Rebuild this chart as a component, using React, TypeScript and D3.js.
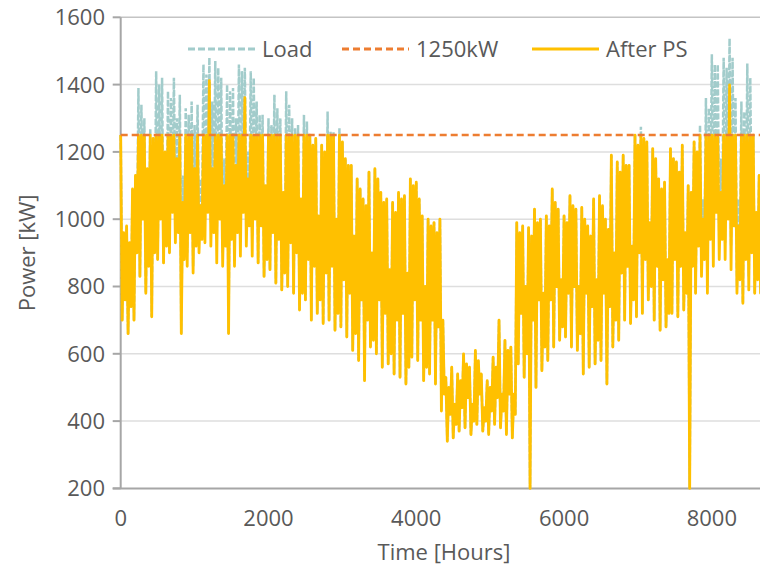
import React, { useEffect, useRef } from 'react';
import * as d3 from 'd3';

// sampled every 40 h: peak at the start of each block, trough in the middle
const STEP = 40;
const loadHi = [
  1250, 960, 980, 930, 1090, 1130, 1390, 1340, 1300, 1150, 1270, 1240, 1440, 1400, 1420, 1200, 1380, 1360, 1420, 1300,
  1370, 1130, 1330, 1310, 1350, 1280, 1340, 1120, 1460, 1430, 1480, 1350, 1470, 1450, 1420, 1180, 1400, 1380, 1390, 1300,
  1460, 1440, 1450, 1200, 1440, 1420, 1350, 1310, 1310, 1100, 1300, 1280, 1370, 1330, 1300, 1080, 1380, 1340, 1300, 1270,
  1280, 1060, 1310, 1290, 1250, 1220, 1240, 1010, 1220, 1200, 1320, 1260, 1260, 1000, 1270, 1230, 1180, 1160, 1160, 950,
  1120, 1090, 1060, 1040, 1140, 900, 1150, 1120, 1080, 1050, 1060, 850, 1050, 1020, 1080, 1060, 1070, 840, 1120, 1100,
  1110, 1060, 1010, 800, 1000, 980, 990, 960, 1000, 700, 530, 500, 560, 450, 540, 520, 600, 570, 560, 450,
  610, 580, 540, 440, 520, 500, 590, 560, 700, 480, 640, 610, 620, 480, 990, 960, 980, 800, 975, 950,
  1030, 990, 1000, 780, 1010, 980, 1090, 1050, 1030, 820, 1010, 990, 1070, 1040, 1030, 800, 1035, 1000, 980, 950,
  1060, 820, 1070, 1040, 1000, 970, 1190, 900, 1170, 1140, 1190, 1160, 1160, 920, 1250, 1220, 1275, 1240, 1230, 990,
  1210, 1180, 1120, 1090, 1110, 880, 1210, 1180, 1170, 1140, 1220, 960, 1100, 1080, 1230, 1200, 1280, 1060, 1360, 1330,
  1490, 1460, 1460, 1180, 1480, 1450, 1537, 1480, 1360, 1060, 1350, 1320, 1463, 1420, 1250, 1020, 1130, 1100, 1250, 1230,
];
const loadLo = [
  700, 760, 660, 740, 700, 900, 830, 1000, 780, 860, 710, 900, 880, 1000, 870, 920, 900, 1020, 980, 1000,
  660, 920, 900, 1000, 860, 960, 960, 980, 1000, 1080, 990, 1000, 940, 1060, 900, 960, 660, 980, 880, 1000,
  950, 1080, 990, 1010, 950, 1050, 870, 980, 830, 880, 850, 960, 810, 940, 790, 840, 800, 930, 780, 900,
  730, 780, 760, 880, 700, 860, 720, 760, 690, 840, 700, 860, 670, 720, 680, 820, 650, 780, 610, 660,
  580, 760, 520, 700, 620, 640, 600, 760, 560, 720, 570, 600, 540, 700, 530, 720, 510, 560, 590, 760,
  580, 700, 520, 560, 540, 700, 510, 680, 430, 480, 340, 420, 350, 390, 370, 440, 380, 470, 360, 400,
  390, 480, 370, 400, 360, 430, 390, 470, 380, 430, 360, 480, 350, 420, 570, 720, 530, 600, 200, 700,
  500, 760, 550, 620, 580, 760, 620, 800, 640, 680, 650, 780, 620, 800, 610, 660, 540, 780, 560, 740,
  570, 640, 580, 780, 510, 740, 620, 700, 640, 840, 700, 860, 690, 760, 710, 900, 720, 880, 760, 800,
  700, 860, 670, 820, 680, 720, 720, 880, 710, 860, 730, 780, 200, 860, 780, 920, 860, 900, 800, 980,
  930, 1080, 950, 980, 930, 1060, 920, 1040, 800, 840, 750, 920, 830, 940, 780, 820, 780, 900, 800, 880,
];
const psHi = [
  1250, 960, 980, 930, 1090, 1130, 1250, 1250, 1250, 1150, 1250, 1240, 1250, 1250, 1250, 1200, 1250, 1250, 1250, 1180,
  1250, 1050, 1250, 1250, 1250, 1150, 1250, 1040, 1250, 1250, 1412, 1150, 1250, 1250, 1250, 1100, 1250, 1250, 1250, 1160,
  1250, 1250, 1361, 1120, 1250, 1250, 1250, 1250, 1250, 1100, 1250, 1250, 1250, 1250, 1250, 1080, 1250, 1250, 1250, 1250,
  1250, 1060, 1250, 1250, 1250, 1220, 1240, 1010, 1220, 1200, 1250, 1250, 1250, 1000, 1250, 1230, 1180, 1160, 1160, 950,
  1120, 1090, 1060, 1040, 1140, 900, 1150, 1120, 1080, 1050, 1060, 850, 1050, 1020, 1080, 1060, 1070, 840, 1120, 1100,
  1110, 1060, 1010, 800, 1000, 980, 990, 960, 1000, 700, 530, 500, 560, 450, 540, 520, 600, 570, 560, 450,
  610, 580, 540, 440, 520, 500, 590, 560, 700, 480, 640, 610, 620, 480, 990, 960, 980, 800, 975, 950,
  1030, 990, 1000, 780, 1010, 980, 1090, 1050, 1030, 820, 1010, 990, 1070, 1040, 1030, 800, 1035, 1000, 980, 950,
  1060, 820, 1070, 1040, 1000, 970, 1190, 900, 1170, 1140, 1190, 1160, 1160, 920, 1250, 1220, 1250, 1240, 1230, 990,
  1210, 1180, 1120, 1090, 1110, 880, 1210, 1180, 1170, 1140, 1220, 960, 1100, 1080, 1230, 1200, 1250, 1000, 1250, 1250,
  1250, 1250, 1250, 1080, 1250, 1250, 1399, 1250, 1250, 980, 1250, 1250, 1250, 1250, 1250, 1020, 1130, 1100, 1250, 1230,
];
const psLo = [
  700, 760, 660, 740, 700, 900, 830, 1000, 780, 860, 710, 900, 880, 1000, 870, 920, 900, 1020, 930, 960,
  660, 880, 860, 960, 840, 920, 900, 940, 930, 1020, 920, 960, 870, 1000, 860, 920, 660, 940, 860, 960,
  890, 1020, 920, 980, 890, 1000, 870, 980, 830, 880, 850, 960, 810, 940, 790, 840, 800, 930, 780, 900,
  730, 780, 760, 880, 700, 860, 720, 760, 690, 840, 700, 860, 670, 720, 680, 820, 650, 780, 610, 660,
  580, 760, 520, 700, 620, 640, 600, 760, 560, 720, 570, 600, 540, 700, 530, 720, 510, 560, 590, 760,
  580, 700, 520, 560, 540, 700, 510, 680, 430, 480, 340, 420, 350, 390, 370, 440, 380, 470, 360, 400,
  390, 480, 370, 400, 360, 430, 390, 470, 380, 430, 360, 480, 350, 420, 570, 720, 530, 600, 200, 700,
  500, 760, 550, 620, 580, 760, 620, 800, 640, 680, 650, 780, 620, 800, 610, 660, 540, 780, 560, 740,
  570, 640, 580, 780, 510, 740, 620, 700, 640, 840, 700, 860, 690, 760, 710, 900, 720, 880, 760, 800,
  700, 860, 670, 820, 680, 720, 720, 880, 710, 860, 730, 780, 200, 860, 780, 920, 830, 880, 780, 940,
  860, 1020, 880, 940, 880, 1000, 850, 980, 780, 820, 750, 880, 790, 900, 780, 820, 780, 900, 800, 880,
];
const limitKW = 1250;
const yTicks = [200, 400, 600, 800, 1000, 1200, 1400, 1600];
const xTicks = [0, 2000, 4000, 6000, 8000];
const legendItems = ['Load', '1250kW', 'After PS'];

const toPoints = (hi: number[], lo: number[]) => {
  const pts: [number, number][] = [];
  hi.forEach((v, i) => {
    pts.push([i * STEP, v]);
    pts.push([i * STEP + STEP / 2, lo[i]]);
  });
  return pts;
};

export default function App() {
  const ref = useRef<SVGSVGElement>(null);

  useEffect(() => {
    const width = 760;
    const height = 570;
    const font = "'Open Sans', sans-serif";
    const textCol = '#595959';

    const x = d3.scaleLinear().domain([0, 8760]).range([120.7, 768]);
    const y = d3.scaleLinear().domain([200, 1600]).range([488.4, 17.3]);

    const svg = d3.select(ref.current).attr('width', width).attr('height', height);
    svg.selectAll('*').remove();
    svg.append('rect').attr('width', width).attr('height', height).attr('fill', '#fff');

    // gridlines
    svg
      .append('g')
      .selectAll('line')
      .data(yTicks.filter((d) => d > 200))
      .enter()
      .append('line')
      .attr('x1', x(0))
      .attr('x2', width)
      .attr('y1', (d) => y(d))
      .attr('y2', (d) => y(d))
      .attr('stroke', (d) => (d === 1600 ? '#c4c4c4' : '#dedede'))
      .attr('stroke-width', 1.5);

    // y axis
    svg
      .append('line')
      .attr('x1', x(0))
      .attr('x2', x(0))
      .attr('y1', y(1600))
      .attr('y2', y(200))
      .attr('stroke', '#a6a6a6')
      .attr('stroke-width', 2);
    svg
      .append('g')
      .selectAll('line')
      .data(yTicks)
      .enter()
      .append('line')
      .attr('x1', x(0) - 8)
      .attr('x2', x(0))
      .attr('y1', (d) => y(d))
      .attr('y2', (d) => y(d))
      .attr('stroke', '#a6a6a6')
      .attr('stroke-width', 2);
    svg
      .append('g')
      .selectAll('text')
      .data(yTicks)
      .enter()
      .append('text')
      .attr('x', 105)
      .attr('y', (d) => y(d))
      .attr('dy', '0.36em')
      .attr('text-anchor', 'end')
      .attr('font-family', font)
      .attr('font-size', 22)
      .attr('fill', textCol)
      .text((d) => d);

    // x axis
    svg
      .append('line')
      .attr('x1', x(0) - 8)
      .attr('x2', width)
      .attr('y1', y(200))
      .attr('y2', y(200))
      .attr('stroke', '#a6a6a6')
      .attr('stroke-width', 2);
    svg
      .append('g')
      .selectAll('text')
      .data(xTicks)
      .enter()
      .append('text')
      .attr('x', (d) => x(d))
      .attr('y', 526)
      .attr('text-anchor', 'middle')
      .attr('font-family', font)
      .attr('font-size', 22)
      .attr('fill', textCol)
      .text((d) => d);

    // axis titles
    svg
      .append('text')
      .attr('x', 444)
      .attr('y', 560)
      .attr('text-anchor', 'middle')
      .attr('font-family', font)
      .attr('font-size', 22)
      .attr('fill', textCol)
      .text('Time [Hours]');
    svg
      .append('text')
      .attr('transform', `translate(35,${(y(200) + y(1600)) / 2}) rotate(-90)`)
      .attr('text-anchor', 'middle')
      .attr('font-family', font)
      .attr('font-size', 22)
      .attr('fill', textCol)
      .text('Power [kW]');

    const line = d3
      .line<[number, number]>()
      .x((d) => x(d[0]))
      .y((d) => y(d[1]));

    // load (dashed teal), then after peak shaving on top
    svg
      .append('path')
      .datum(toPoints(loadHi, loadLo))
      .attr('d', line)
      .attr('fill', 'none')
      .attr('stroke', '#a2cccb')
      .attr('stroke-width', 2.5)
      .attr('stroke-dasharray', '6,2');
    svg
      .append('path')
      .datum(toPoints(psHi, psLo))
      .attr('d', line)
      .attr('fill', 'none')
      .attr('stroke', '#ffc000')
      .attr('stroke-width', 2.8)
      .attr('stroke-linejoin', 'round');

    // 1250 kW limit
    svg
      .append('line')
      .attr('x1', x(0))
      .attr('x2', width)
      .attr('y1', y(limitKW))
      .attr('y2', y(limitKW))
      .attr('stroke', '#ed7d31')
      .attr('stroke-width', 2.5)
      .attr('stroke-dasharray', '7,4');

    // legend
    const legendX = [188, 342, 532];
    const legendTextX = [262, 416, 606];
    const legendStroke = ['#a2cccb', '#ed7d31', '#ffc000'];
    const legendDash = ['7,3', '7,4', null];
    const lg = svg.append('g');
    legendItems.forEach((name, i) => {
      lg.append('line')
        .attr('x1', legendX[i])
        .attr('x2', legendX[i] + 67)
        .attr('y1', 49)
        .attr('y2', 49)
        .attr('stroke', legendStroke[i])
        .attr('stroke-width', 2.8)
        .attr('stroke-dasharray', legendDash[i]);
      lg.append('text')
        .attr('x', legendTextX[i])
        .attr('y', 57)
        .attr('font-family', font)
        .attr('font-size', 22)
        .attr('fill', textCol)
        .text(name);
    });
  });

  return (
    <svg ref={ref} style={{ position: 'absolute', left: 0, top: 0, display: 'block' }} />
  );
}
